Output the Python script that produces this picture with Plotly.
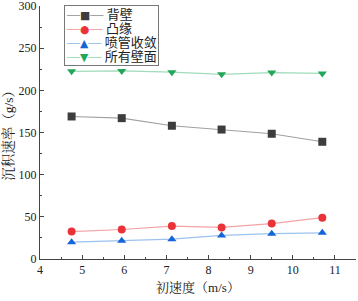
import plotly.graph_objects as go

x_vals = [4.75, 5.94, 7.13, 8.31, 9.5, 10.7]
back_wall = [169, 167, 158, 153.5, 148.5, 139]
flange = [32.5, 35, 39, 37.5, 42, 49]
nozzle = [20, 21.5, 23.5, 28, 30, 31]
all_walls = [222.5, 223, 221.5, 219, 221, 220]

names = ["背壁", "凸缘", "喷管收敛", "所有壁面"]
series = [back_wall, flange, nozzle, all_walls]
line_colors = ["#a0a0a0", "#f4a3a5", "#9cc3ee", "#9fdcb9"]
marker_colors = ["#3d3d3d", "#ea3339", "#1565d8", "#23a55a"]
symbols = ["square", "circle", "triangle-up", "triangle-down"]
legend_glyphs = ["■", "●", "▲", "▼"]

fig = go.Figure()
for n, s, lc, mc, sym in zip(names, series, line_colors, marker_colors, symbols):
    fig.add_trace(go.Scatter(
        x=x_vals, y=s, name=n, mode="lines+markers",
        line=dict(color=lc, width=1.2),
        marker=dict(color=mc, symbol=sym, size=8),
    ))

# legend drawn as a text box (native legend rows are too tall)
rows = []
for n, lc, mc, g in zip(names, line_colors, marker_colors, legend_glyphs):
    rows.append(
        f"<span style='color:{lc}'>──</span>"
        f"<span style='color:{mc}'>{g}</span>"
        f"<span style='color:{lc}'>──</span>"
        f" <span style='font-size:13px'>{n}</span>"
    )
legend_text = "<br>".join(rows)

font_fam = "Liberation Serif, Noto Serif CJK SC, Noto Sans CJK SC, serif"
fig.update_layout(
    width=358, height=301,
    margin=dict(l=40, r=2, t=6, b=42, autoexpand=False),
    plot_bgcolor="white", paper_bgcolor="white",
    font=dict(family=font_fam, size=12, color="#222"),
    showlegend=False,
    annotations=[dict(
        text=legend_text, xref="paper", yref="paper",
        x=0.076, y=1.004, xanchor="left", yanchor="top", align="left",
        showarrow=False, bordercolor="#777", borderwidth=1, borderpad=1,
        bgcolor="white",
        font=dict(size=10.8, family="DejaVu Sans, Noto Sans CJK SC", color="#222"),
    )],
)
fig.update_xaxes(
    range=[4, 11.5], tickvals=[4, 5, 6, 7, 8, 9, 10, 11], automargin=False,
    showgrid=False, zeroline=False, showline=True, linecolor="#444", linewidth=1,
    ticks="inside", ticklen=4, tickcolor="#444", ticklabeloverflow="allow",
    minor=dict(ticks="inside", ticklen=2, dtick=0.5, tickcolor="#444"),
    title=dict(text="初速度（m/s）", font=dict(size=13), standoff=6),
    tickfont=dict(size=12),
)
fig.update_yaxes(
    range=[0, 300], tickvals=[0, 50, 100, 150, 200, 250, 300], automargin=False,
    showgrid=False, zeroline=False, showline=True, linecolor="#444", linewidth=1,
    ticks="inside", ticklen=4, tickcolor="#444", ticklabeloverflow="allow",
    minor=dict(ticks="inside", ticklen=2, dtick=25, tickcolor="#444"),
    title=dict(text="沉积速率（g/s）", font=dict(size=13.5), standoff=4),
    tickfont=dict(size=12),
)
fig.write_html("out.html", post_script="document.body.style.margin='0';",
               config={"displayModeBar": False})
